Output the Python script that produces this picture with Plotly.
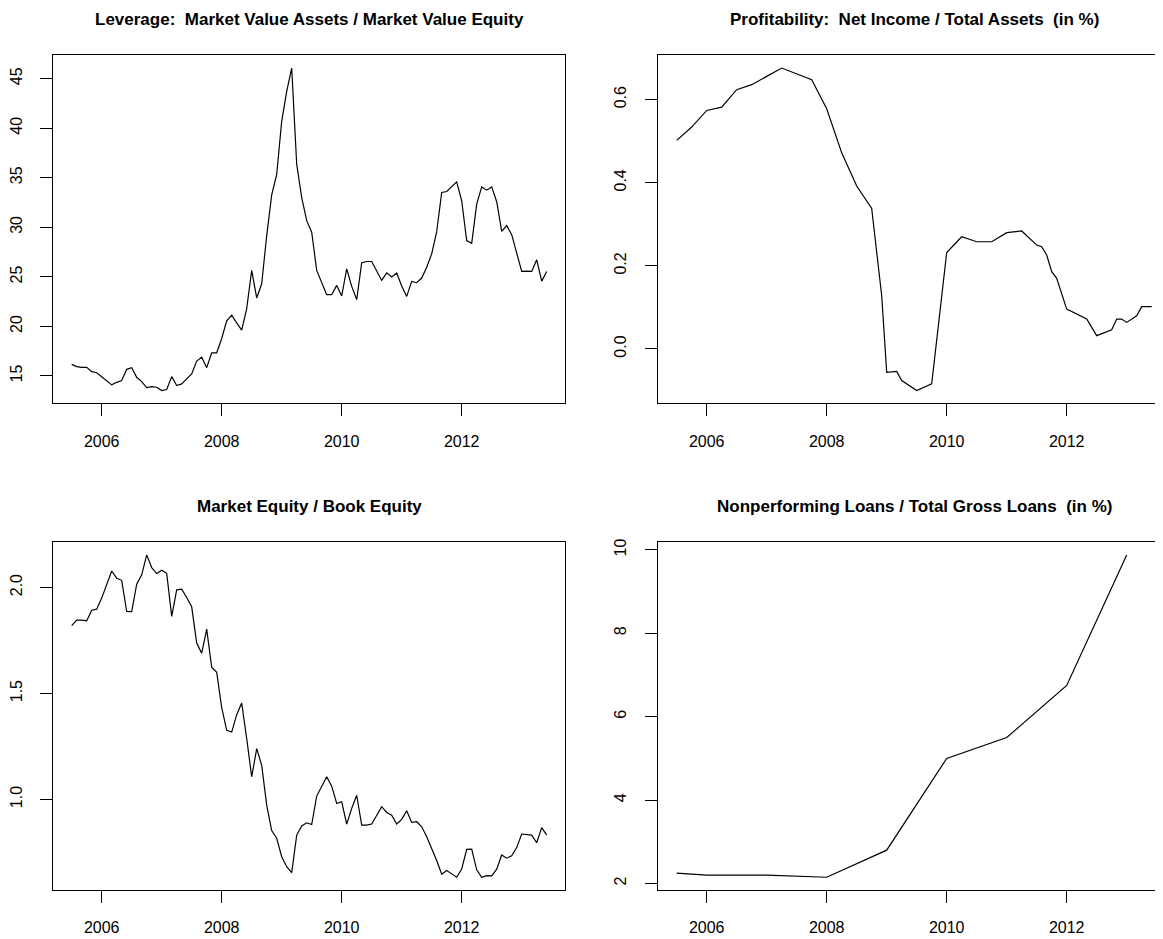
import plotly.graph_objects as go

# ---------------- data ----------------
start_year = 2005.5            # first monthly observation (July 2005)
n_months = 96
months = [start_year + i / 12 for i in range(n_months)]

leverage = [
    16.17, 15.94, 15.87, 15.87, 15.43, 15.33, 14.93, 14.50, 14.10, 14.36, 14.53, 15.67,
    15.84, 14.87, 14.43, 13.83, 13.93, 13.86, 13.53, 13.63, 14.93, 14.03, 14.20, 14.70,
    15.20, 16.50, 16.90, 15.84, 17.34, 17.34, 18.78, 20.56, 21.13, 20.36, 19.62, 21.80,
    25.65, 22.87, 24.30, 29.16, 33.28, 35.35, 40.70, 43.72, 46.07, 36.36, 33.00, 30.67,
    29.50, 25.65, 24.37, 23.20, 23.20, 24.14, 23.07, 25.80, 24.04, 22.70, 26.42, 26.55,
    26.55, 25.55, 24.64, 25.41, 24.98, 25.38, 24.07, 23.03, 24.54, 24.41, 24.88, 25.98,
    27.32, 29.56, 33.51, 33.61, 34.08, 34.58, 32.68, 28.66, 28.39, 32.34, 34.08, 33.75,
    34.08, 32.58, 29.60, 30.17, 29.26, 27.49, 25.55, 25.58, 25.55, 26.72, 24.57, 25.55,
]

me_be = [
    1.820, 1.846, 1.846, 1.843, 1.893, 1.898, 1.950, 2.016, 2.078, 2.044, 2.034, 1.887,
    1.886, 2.016, 2.060, 2.154, 2.094, 2.066, 2.082, 2.067, 1.864, 1.989, 1.992, 1.953,
    1.909, 1.738, 1.690, 1.804, 1.624, 1.600, 1.433, 1.326, 1.318, 1.400, 1.455, 1.287,
    1.107, 1.240, 1.161, 0.973, 0.853, 0.817, 0.730, 0.683, 0.655, 0.832, 0.875, 0.890,
    0.882, 1.016, 1.060, 1.107, 1.063, 0.981, 0.989, 0.884, 0.958, 1.020, 0.879, 0.879,
    0.884, 0.926, 0.966, 0.939, 0.926, 0.884, 0.906, 0.947, 0.892, 0.895, 0.871, 0.824,
    0.770, 0.712, 0.647, 0.665, 0.649, 0.633, 0.672, 0.765, 0.766, 0.668, 0.633, 0.641,
    0.640, 0.671, 0.738, 0.723, 0.734, 0.773, 0.837, 0.835, 0.832, 0.796, 0.867, 0.832,
]

profit_month_idx = [0, 3, 6, 9, 12, 15, 18, 21, 27, 30, 33, 36, 39, 41, 42, 44, 45, 48,
                    51, 54, 57, 60, 63, 66, 69, 72, 73, 74, 75, 76, 78, 82, 84, 87, 88,
                    89, 90, 92, 93, 95]
profitability = [0.502, 0.534, 0.574, 0.582, 0.624, 0.636, 0.656, 0.676, 0.648, 0.578,
                 0.472, 0.392, 0.338, 0.128, -0.056, -0.054, -0.076, -0.100, -0.084,
                 0.232, 0.270, 0.258, 0.258, 0.280, 0.284, 0.250, 0.246, 0.226, 0.186,
                 0.170, 0.096, 0.072, 0.032, 0.046, 0.072, 0.072, 0.064, 0.080, 0.102,
                 0.102]
profit_time = [months[i] for i in profit_month_idx]

npl_time = [2005.5, 2006, 2007, 2008, 2009, 2010, 2011, 2012, 2013]
npl_ratio = [2.25, 2.20, 2.20, 2.15, 2.80, 5.00, 5.50, 6.75, 9.88]

x_ticks = [2006, 2008, 2010, 2012]
x_tick_text = ["2006", "2008", "2010", "2012"]

titles = [
    "Leverage:\u00a0 Market Value Assets / Market Value Equity",
    "Profitability:\u00a0 Net Income / Total Assets\u00a0 (in %)",
    "Market Equity / Book Equity",
    "Nonperforming Loans / Total Gross Loans\u00a0 (in %)",
]
y_ticks = [
    [15, 20, 25, 30, 35, 40, 45],
    [0.0, 0.2, 0.4, 0.6],
    [1.0, 1.5, 2.0],
    [2, 4, 6, 8, 10],
]
y_tick_text = [
    ["15", "20", "25", "30", "35", "40", "45"],
    ["0.0", "0.2", "0.4", "0.6"],
    ["1.0", "1.5", "2.0"],
    ["2", "4", "6", "8", "10"],
]

# ---------------- layout geometry (pixels in the screenshot) ----------------
OFF = 8                      # default page margin around the plot div
SW, SH = 1163, 939           # screenshot size
W, H = SW - OFF, SH - OFF    # figure size
FONT = "Liberation Sans, Arial, Helvetica, sans-serif"
px_per_year = 60.0

def pad_range(vals, frac=0.04):
    lo, hi = min(vals), max(vals)
    d = (hi - lo) * frac
    return [lo - d, hi + d]

# box edges in screenshot pixels
panels = [
    dict(l=53.0, r=565.0, t=52.3, b=401.7, x=months, y=leverage, tick2006=101.7),
    dict(l=657.7, r=1163.0, t=52.3, b=401.7, x=profit_time, y=profitability, tick2006=706.7),
    dict(l=53.0, r=565.0, t=540.7, b=890.0, x=months, y=me_be, tick2006=101.7),
    dict(l=657.7, r=1163.0, t=540.7, b=890.0, x=npl_time, y=npl_ratio, tick2006=706.7),
]
full_right = [565.0, 1170.7, 565.0, 1170.7]   # true right edge of each box (may be off-canvas)

fig = go.Figure()
layout = dict(
    width=W, height=H,
    margin=dict(l=0, r=0, t=0, b=0),
    paper_bgcolor="white", plot_bgcolor="white",
    showlegend=False,
    font=dict(family=FONT, color="black", size=16),
    annotations=[],
)

for k, p in enumerate(panels):
    n = k + 1
    xa = "x" if n == 1 else f"x{n}"
    ya = "y" if n == 1 else f"y{n}"
    fig.add_trace(go.Scatter(
        x=p["x"], y=p["y"], mode="lines",
        line=dict(color="black", width=1.2),
        xaxis=xa, yaxis=ya, hoverinfo="skip",
    ))
    x0 = 2006 + (p["l"] - p["tick2006"]) / px_per_year
    x1 = 2006 + (p["r"] - p["tick2006"]) / px_per_year
    yr = pad_range(p["y"])
    right_visible = p["r"] < SW - 1
    l, r = p["l"] - OFF, p["r"] - OFF
    t, b = p["t"] - OFF, p["b"] - OFF
    xkey = "xaxis" if n == 1 else f"xaxis{n}"
    ykey = "yaxis" if n == 1 else f"yaxis{n}"
    layout[xkey] = dict(
        domain=[l / W, min(r / W, 1.0)],
        range=[x0, x1],
        anchor=ya,
        tickmode="array", tickvals=x_ticks, ticktext=x_tick_text,
        ticks="outside", ticklen=12, tickwidth=1, tickcolor="black",
        showline=True, linecolor="black", linewidth=1, mirror=True,
        showgrid=False, zeroline=False,
        tickfont=dict(family=FONT, size=16, color="black"),
        ticklabelstandoff=11,
    )
    layout[ykey] = dict(
        domain=[1 - b / H, 1 - t / H],
        range=yr,
        anchor=xa,
        tickmode="array", tickvals=y_ticks[k], ticktext=y_tick_text[k],
        ticks="outside", ticklen=12, tickwidth=1, tickcolor="black",
        showline=True, linecolor="black", linewidth=1, mirror=right_visible,
        showgrid=False, zeroline=False,
        tickangle=-90,
        tickfont=dict(family=FONT, size=16, color="black"),
        ticklabelstandoff=12,
    )
    cx = (p["l"] + full_right[k]) / 2 - OFF
    cy = p["t"] - 36 - OFF
    layout["annotations"].append(dict(
        text=f"<b>{titles[k]}</b>",
        x=cx / W, y=1 - cy / H, xref="paper", yref="paper",
        xanchor="center", yanchor="middle", showarrow=False,
        font=dict(family=FONT, size=17, color="black"),
    ))

fig.update_layout(**layout)
fig.write_html("out.html")
